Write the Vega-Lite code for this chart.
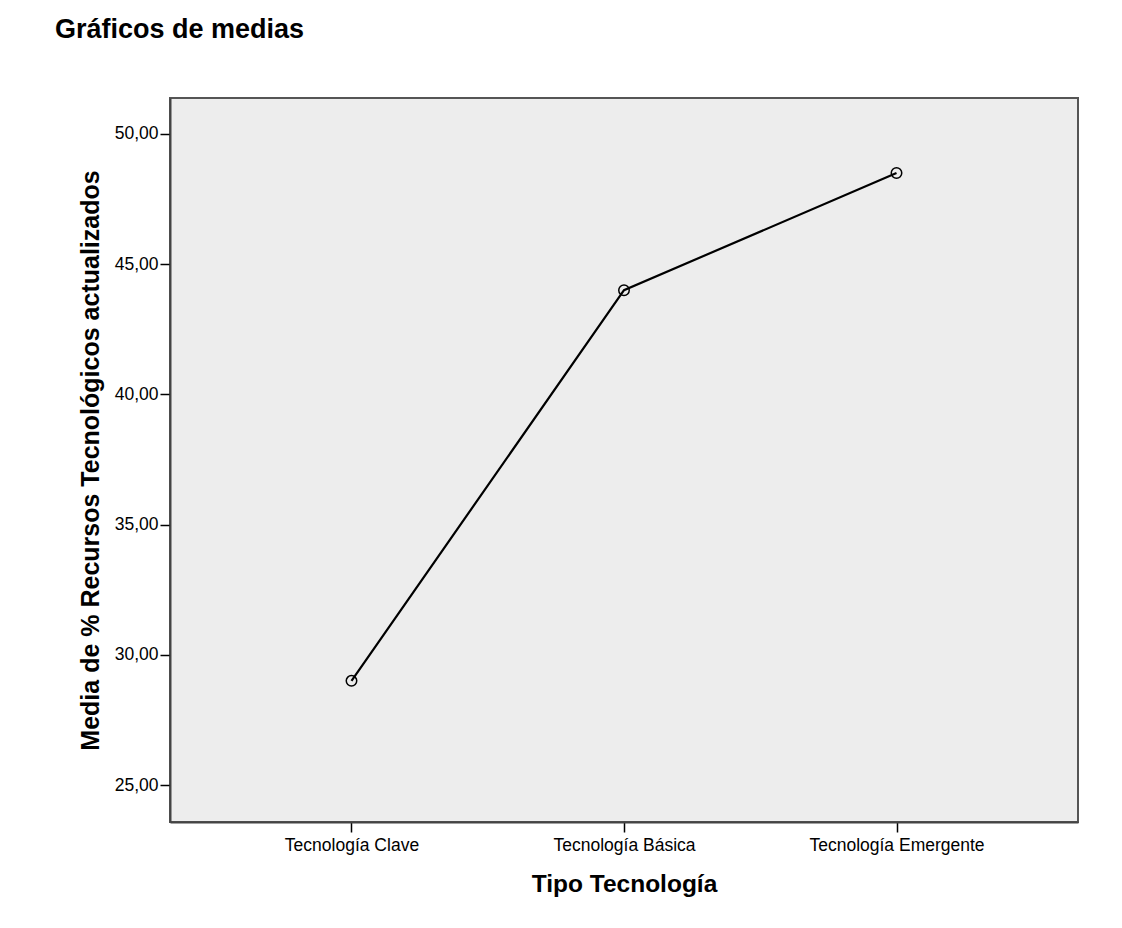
{
  "$schema": "https://vega.github.io/schema/vega-lite/v6.json",
  "autosize": "none",
  "width": 908,
  "height": 724,
  "padding": {"left": 170, "top": 98, "right": 44, "bottom": 106},
  "background": "white",
  "title": {
    "text": "Gráficos de medias",
    "anchor": "start",
    "frame": "group",
    "dx": -115,
    "offset": 54,
    "font": "Liberation Sans",
    "fontSize": 27,
    "fontWeight": "bold",
    "color": "#000000"
  },
  "data": {
    "values": [
      {"tipo": "Tecnología Clave", "media": 29.0},
      {"tipo": "Tecnología Básica", "media": 44.0},
      {"tipo": "Tecnología Emergente", "media": 48.5}
    ]
  },
  "encoding": {
    "x": {
      "field": "tipo",
      "type": "nominal",
      "sort": null,
      "scale": {"type": "point", "padding": 0.666},
      "axis": {
        "title": "Tipo Tecnología",
        "labelAngle": 0,
        "labelFont": "Liberation Sans",
        "labelFontSize": 17.5,
        "labelColor": "#000000",
        "labelPadding": 4,
        "titleFont": "Liberation Sans",
        "titleFontSize": 24.5,
        "titleFontWeight": "bold",
        "titleColor": "#000000",
        "titlePadding": 19,
        "domainColor": "#444444",
        "domainWidth": 2,
        "tickColor": "#000000",
        "tickSize": 10,
        "tickWidth": 1.5,
        "grid": false
      }
    },
    "y": {
      "field": "media",
      "type": "quantitative",
      "scale": {"domain": [23.58, 51.38], "nice": false, "zero": false},
      "axis": {
        "title": "Media de % Recursos Tecnológicos actualizados",
        "values": [25, 30, 35, 40, 45, 50],
        "labelExpr": "replace(format(datum.value, '.2f'), '.', ',')",
        "labelFont": "Liberation Sans",
        "labelFontSize": 17.5,
        "labelColor": "#000000",
        "labelPadding": 2,
        "titleFont": "Liberation Sans",
        "titleFontSize": 25,
        "titleFontWeight": "bold",
        "titleColor": "#000000",
        "titlePadding": 11,
        "domainColor": "#444444",
        "domainWidth": 2,
        "tickColor": "#000000",
        "tickSize": 10,
        "tickWidth": 1.5,
        "grid": false
      }
    }
  },
  "layer": [
    {"mark": {"type": "line", "color": "#000000", "strokeWidth": 2.2}},
    {"mark": {"type": "point", "shape": "circle", "size": 110, "filled": false, "stroke": "#000000", "strokeWidth": 1.5, "opacity": 1}}
  ],
  "config": {
    "view": {"fill": "#ededed", "stroke": "#555555", "strokeWidth": 2}
  }
}
